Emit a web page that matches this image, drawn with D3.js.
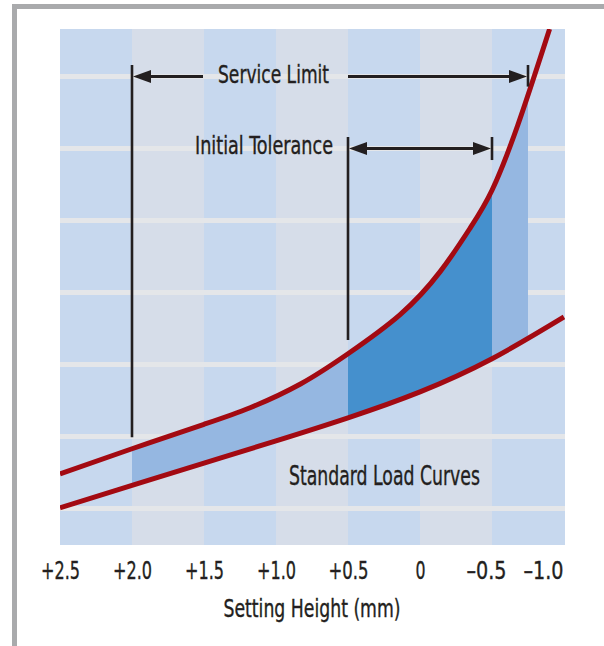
<!DOCTYPE html>
<html>
<head>
<meta charset="utf-8">
<script src="https://cdn.jsdelivr.net/npm/d3@7"></script>
<style>
  html, body { margin: 0; padding: 0; background: #ffffff; }
  svg { display: block; }
  text { font-family: "Liberation Sans Narrow", "DejaVu Sans Condensed", "Roboto", sans-serif; fill: #231f20; stroke: #231f20; stroke-width: 0.35px; }
</style>
</head>
<body>
<svg id="chart" width="604" height="646"></svg>
<script>
// ---------------- data ----------------
const xTickValues = [2.5, 2.0, 1.5, 1.0, 0.5, 0, -0.5, -1.0];
const xTickLabels = ["+2.5", "+2.0", "+1.5", "+1.0", "+0.5", "0", "\u20130.5", "\u20131.0"];
const gridValues = [1, 2, 3, 4, 5, 6, 7];

// upper standard load curve (setting height mm, load units)
const upperX = [2.5, 2.0, 1.5, 1.18, 0.83, 0.5, 0.14, -0.14, -0.35, -0.5, -0.68, -0.9];
const upperY = [1.48, 1.83, 2.17, 2.40, 2.73, 3.15, 3.69, 4.29, 4.90, 5.42, 6.33, 7.66];
// lower standard load curve
const lowerX = [2.5, 2.0, 1.5, 1.0, 0.5, 0.0, -0.5, -1.0];
const lowerY = [1.01, 1.32, 1.63, 1.94, 2.26, 2.62, 3.08, 3.66];

const serviceLimit = [2.0, -0.75];
const initialTolerance = [0.5, -0.5];

const titleText = "Setting Height (mm)";
const serviceLabel = "Service Limit";
const toleranceLabel = "Initial Tolerance";
const curvesLabel = "Standard Load Curves";

// ---------------- layout ----------------
const W = 604, H = 646;
const plot = { left: 60, right: 564, top: 29, bottom: 545 };
const colors = {
  bandA: "#c7d8ee", bandB: "#d6dde9", grid: "#e4e6e9",
  light: "#95b7e1", dark: "#4590cd", curve: "#a30a12",
  ink: "#231f20", frame: "#a9aaac"
};

const svg = d3.select("#chart");

const x = d3.scaleLinear().domain([2.5, -1.0]).range([plot.left, plot.right]);
const y = d3.scaleLinear().domain([0.493, 7.66]).range([plot.bottom, plot.top]);

// frame (top and left bars)
svg.append("rect").attr("x", 12).attr("y", 4).attr("width", W - 12).attr("height", 5).attr("fill", colors.frame);
svg.append("rect").attr("x", 12).attr("y", 4).attr("width", 5).attr("height", H - 4).attr("fill", colors.frame);

const defs = svg.append("defs");
defs.append("clipPath").attr("id", "plotClip").append("rect")
  .attr("x", plot.left).attr("y", plot.top)
  .attr("width", plot.right - plot.left + 1).attr("height", plot.bottom - plot.top);
defs.append("clipPath").attr("id", "lightClip").append("rect")
  .attr("x", x(serviceLimit[0])).attr("y", plot.top)
  .attr("width", x(serviceLimit[1]) - x(serviceLimit[0])).attr("height", plot.bottom - plot.top);
defs.append("clipPath").attr("id", "darkClip").append("rect")
  .attr("x", x(initialTolerance[0])).attr("y", plot.top)
  .attr("width", x(initialTolerance[1]) - x(initialTolerance[0])).attr("height", plot.bottom - plot.top);

// column bands
const bands = d3.range(xTickValues.length - 1).map(i => [xTickValues[i], xTickValues[i + 1], i]);
svg.append("g").selectAll("rect").data(bands).join("rect")
  .attr("x", d => x(d[0])).attr("y", plot.top)
  .attr("width", d => x(d[1]) - x(d[0]) + (d[2] === bands.length - 1 ? 1 : 0))
  .attr("height", plot.bottom - plot.top)
  .attr("fill", d => d[2] % 2 === 0 ? colors.bandA : colors.bandB);

// horizontal grid lines
svg.append("g").selectAll("line").data(gridValues).join("line")
  .attr("x1", plot.left).attr("x2", plot.right + 1)
  .attr("y1", d => y(d)).attr("y2", d => y(d))
  .attr("stroke", colors.grid).attr("stroke-width", 5);

const upper = upperX.map((v, i) => [v, upperY[i]]);
const lower = lowerX.map((v, i) => [v, lowerY[i]]);
const line = d3.line().x(d => x(d[0])).y(d => y(d[1])).curve(d3.curveNatural);

const bandPath = line(upper) + line(lower.slice().reverse()).replace(/^M/, "L") + "Z";

const plotG = svg.append("g").attr("clip-path", "url(#plotClip)");
plotG.append("g").attr("clip-path", "url(#lightClip)")
  .append("path").attr("d", bandPath).attr("fill", colors.light);
plotG.append("g").attr("clip-path", "url(#darkClip)")
  .append("path").attr("d", bandPath).attr("fill", colors.dark);

plotG.selectAll("path.curve").data([upper, lower]).join("path")
  .attr("class", "curve")
  .attr("d", line)
  .attr("fill", "none")
  .attr("stroke", colors.curve)
  .attr("stroke-width", 5)
  .attr("stroke-linejoin", "round");

// ---------------- annotations ----------------
const ann = svg.append("g");
function vline(xv, y0, y1) {
  ann.append("line").attr("x1", x(xv)).attr("x2", x(xv))
    .attr("y1", y(y0)).attr("y2", y(y1))
    .attr("stroke", colors.ink).attr("stroke-width", 2.6);
}
function hseg(px0, px1, py) {
  ann.append("line").attr("x1", px0).attr("x2", px1).attr("y1", py).attr("y2", py)
    .attr("stroke", colors.ink).attr("stroke-width", 3);
}
function arrowHead(px, py, dir) { // dir = -1 points left, +1 points right
  const L = 18, h = 6.5;
  ann.append("path")
    .attr("d", `M${px},${py}L${px - dir * L},${py - h}L${px - dir * L},${py + h}Z`)
    .attr("fill", colors.ink);
}
function label(txt, px, py, len, size, anchor) {
  return ann.append("text").attr("x", px).attr("y", py)
    .attr("font-size", size).attr("text-anchor", anchor || "start")
    .attr("textLength", len).attr("lengthAdjust", "spacingAndGlyphs")
    .text(txt);
}

// Service limit
const slY = y(7);
vline(serviceLimit[0], 7.16, 1.99);
vline(serviceLimit[1], 7.16, 6.86);
const slTextLeft = 218, slTextW = 111;
label(serviceLabel, slTextLeft, slY + 6.5, slTextW, 24.5);
hseg(x(serviceLimit[0]) + 10, slTextLeft - 15, slY);
hseg(slTextLeft + slTextW + 19, x(serviceLimit[1]) - 10, slY);
arrowHead(x(serviceLimit[0]) + 1, slY, -1);
arrowHead(x(serviceLimit[1]) - 1, slY, 1);

// Initial tolerance
const itY = y(6);
vline(initialTolerance[0], 6.16, 3.34);
vline(initialTolerance[1], 6.16, 5.84);
hseg(x(initialTolerance[0]) + 10, x(initialTolerance[1]) - 10, itY);
arrowHead(x(initialTolerance[0]) + 1, itY, -1);
arrowHead(x(initialTolerance[1]) - 1, itY, 1);
label(toleranceLabel, x(initialTolerance[0]) - 15, itY + 5, 138, 24.5, "end");

// curves label
label(curvesLabel, x(0.91), y(1.33), 191, 26);

// ---------------- x axis ----------------
const axis = d3.axisBottom(x).tickValues(xTickValues)
  .tickFormat((d, i) => xTickLabels[i]).tickSize(0);
const axG = svg.append("g").attr("transform", `translate(0,${plot.bottom})`).call(axis);
axG.select(".domain").remove();
const tickW = { "+2.5": 39, "+2.0": 39, "+1.5": 39, "+1.0": 39, "+0.5": 40, "0": 10, "\u20130.5": 40, "\u20131.0": 40 };
axG.selectAll(".tick text")
  .attr("y", 34).attr("dy", 0)
  .attr("font-size", 24)
  .attr("font-family", null)
  .attr("fill", colors.ink)
  .attr("textLength", (d, i) => tickW[xTickLabels[i]])
  .attr("lengthAdjust", "spacingAndGlyphs")
  .attr("text-anchor", (d, i) => i === xTickLabels.length - 1 ? "end" : "middle")
  .attr("dx", (d, i) => i === xTickLabels.length - 1 ? -1 : (xTickLabels[i].startsWith("\u2013") ? -6 : 0));

svg.append("text")
  .attr("x", (plot.left + plot.right) / 2).attr("y", 617)
  .attr("text-anchor", "middle").attr("font-size", 24)
  .attr("textLength", 177).attr("lengthAdjust", "spacingAndGlyphs")
  .text(titleText);
</script>
</body>
</html>
